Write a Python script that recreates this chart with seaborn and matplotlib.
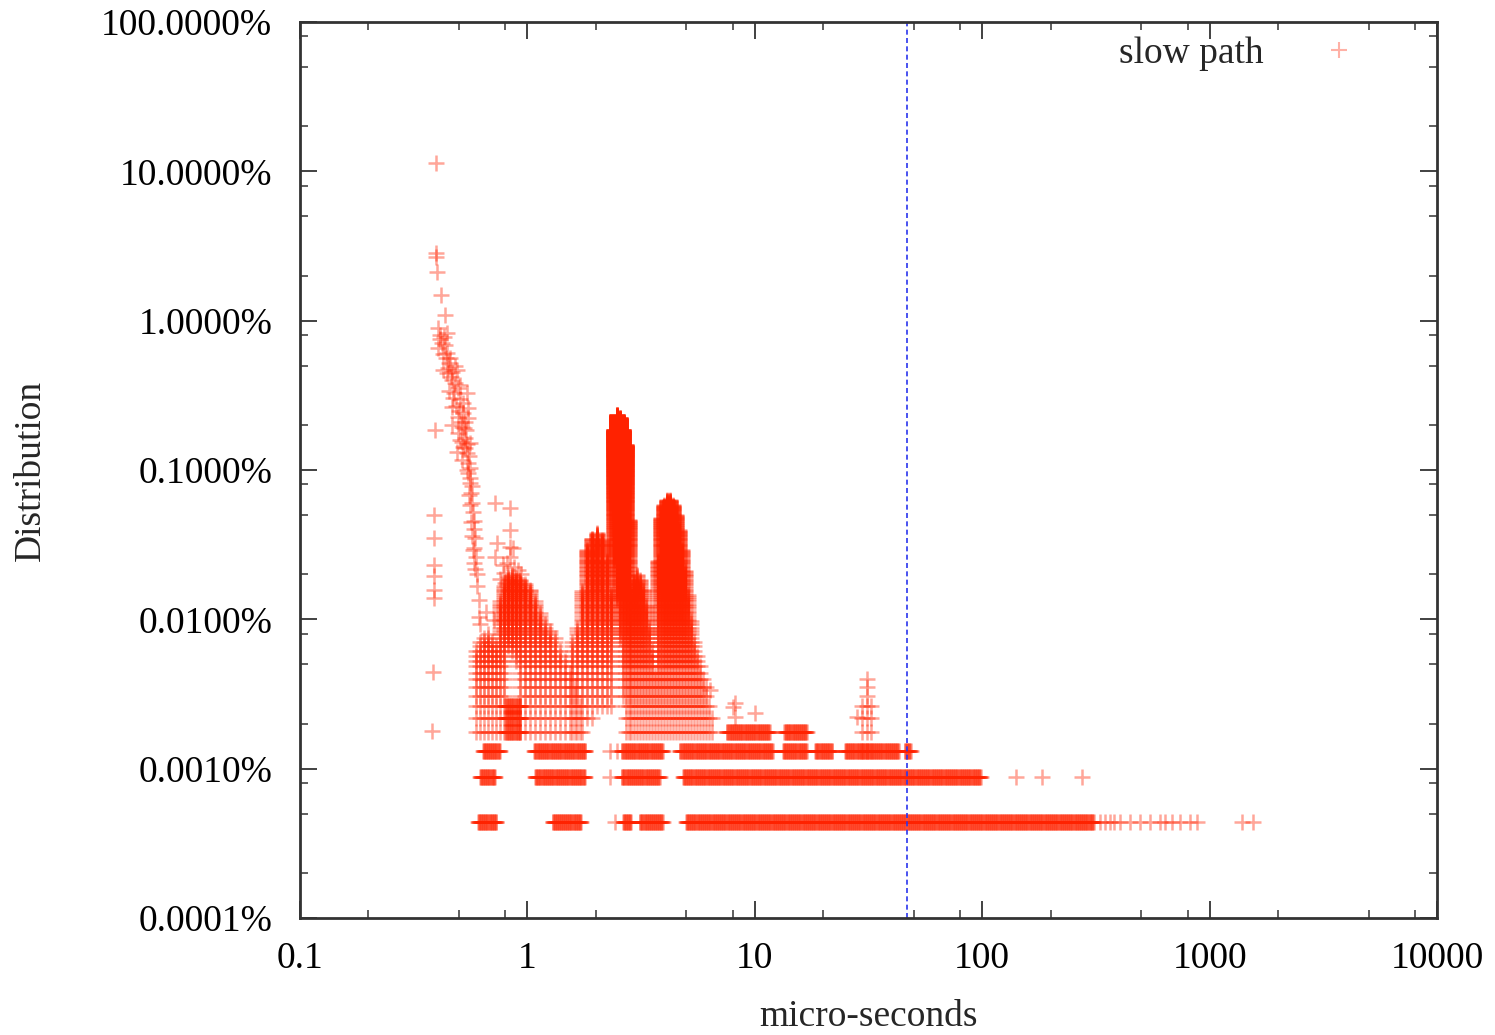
import numpy as np
import pandas as pd
import matplotlib
matplotlib.use("Agg")
import matplotlib.pyplot as plt
import seaborn as sns
from matplotlib.ticker import LogLocator, FixedLocator, FixedFormatter, FuncFormatter, NullFormatter
from matplotlib.lines import Line2D

# ---------------------------------------------------------------- data
# share (in %) of all samples that a single sample represents (lowest band)
ONE_SAMPLE = 0.00044

# isolated points: latency (micro-seconds), distribution (%)
point_x = [0.396, 0.396, 0.396, 0.400, 0.417, 0.434,
           0.392, 0.388, 0.388, 0.388, 0.388, 0.388, 0.388, 0.384, 0.380,
           0.404, 0.443, 0.412, 0.421, 0.434, 0.404, 0.443, 0.456, 0.480, 0.425,
           0.490, 0.443, 0.466, 0.505, 0.495, 0.452, 0.542, 0.470, 0.521, 0.466,
           0.548, 0.495, 0.548, 0.466, 0.515, 0.537, 0.495, 0.531, 0.559, 0.521,
           0.490, 0.542, 0.515, 0.548, 0.559, 0.559, 0.570, 0.570, 0.582, 0.588,
           0.582, 0.588, 0.600, 0.612, 0.612, 0.618,
           0.425, 0.452, 0.466, 0.480, 0.505, 0.521, 0.531, 0.505, 0.531, 0.548,
           0.559, 0.565, 0.575, 0.582, 0.594, 0.600,
           0.412, 0.430, 0.438, 0.448, 0.460, 0.475, 0.486, 0.500, 0.510, 0.525,
           0.515, 0.540, 0.552, 0.545, 0.553, 0.560, 0.566, 0.573, 0.578, 0.585,
           0.720, 0.838, 0.838, 0.734, 0.838, 0.720, 0.838, 0.780, 0.657, 0.712,
           0.757, 0.800, 0.864, 0.810, 0.870, 0.905, 0.790, 0.940,
           2.305, 2.305, 2.474, 2.424,
           6.342, 8.005, 8.169, 8.169, 10.0, 28.08,
           140.3, 182.6, 273.5,
           328.6, 345.0, 363.0, 380.0, 402.0, 445.0, 492.0, 545.0, 603.0, 634.0,
           680.0, 738.0, 817.0, 877.0, 1384.0, 1547.0]
point_y = [11.4, 2.85, 2.68, 2.11, 1.49, 1.09,
           0.186, 0.0500, 0.0351, 0.0231, 0.0195, 0.0157, 0.0139, 0.00444, 0.00179,
           0.895, 0.829, 0.80, 0.710, 0.69, 0.657, 0.608, 0.563, 0.50, 0.468,
           0.468, 0.447, 0.402, 0.37, 0.355, 0.34, 0.329, 0.304, 0.281, 0.265,
           0.261, 0.227, 0.223, 0.200, 0.194, 0.185, 0.177, 0.164, 0.152, 0.143,
           0.132, 0.130, 0.117, 0.112, 0.103, 0.0819, 0.0783, 0.0603, 0.0456, 0.0351,
           0.0301, 0.0218, 0.0167, 0.0135, 0.0104, 0.0093,
           0.60, 0.52, 0.45, 0.38, 0.30, 0.24, 0.21, 0.16, 0.14, 0.095,
           0.088, 0.070, 0.052, 0.040, 0.026, 0.020,
           0.75, 0.78, 0.56, 0.48, 0.42, 0.33, 0.27, 0.25, 0.21, 0.19,
           0.155, 0.15, 0.125, 0.10, 0.068, 0.058, 0.045, 0.036, 0.029, 0.024,
           0.0603, 0.0557, 0.0397, 0.0325, 0.0306, 0.0262, 0.0262, 0.0231, 0.0112, 0.0099,
           0.0185, 0.0175, 0.0300, 0.0240, 0.0225, 0.0215, 0.0205, 0.0200,
           0.00132, 0.00088, 0.00132, 0.00044,
           0.00337, 0.00259, 0.00275, 0.00222, 0.00236, 0.00222,
           0.00088, 0.00088, 0.00088,
           0.00044, 0.00044, 0.00044, 0.00044, 0.00044, 0.00044, 0.00044, 0.00044,
           0.00044, 0.00044, 0.00044, 0.00044, 0.00044, 0.00044, 0.00044, 0.00044]

# dense columns: at col_x every sample-count level between col_bot and col_top (%) is hit
col_x = [0.594, 0.618, 0.644, 0.670, 0.698, 0.727, 0.757, 0.788,
         0.821, 0.855, 0.890, 0.927, 0.975, 1.026, 1.079, 1.135, 1.194, 1.256,
         1.321, 1.389, 1.461, 1.537, 1.617, 1.701,
         1.569, 1.651, 1.736, 1.826, 1.920, 2.020, 2.125, 2.236, 2.328,
         2.400, 2.474, 2.550, 2.630, 2.710, 2.794,
         2.851, 2.939, 3.029, 3.122, 3.218, 3.317, 3.419, 3.525, 3.634,
         3.746, 3.862, 3.981, 4.104, 4.230, 4.361, 4.495, 4.634, 4.777, 4.924,
         5.076, 5.233, 5.394, 5.559, 5.731, 5.908, 6.090, 6.278, 6.471,
         29.53, 31.07, 32.35]
col_top = [0.00624, 0.0073, 0.00786, 0.0081, 0.0073, 0.00674, 0.0135, 0.0170,
           0.0195, 0.0200, 0.0192, 0.0185, 0.0175, 0.0160, 0.0135, 0.0112, 0.0096, 0.00876,
           0.0075, 0.00643, 0.00551, 0.00458, 0.00393, 0.00289,
           0.0073, 0.00917, 0.0157, 0.0292, 0.0351, 0.0379, 0.0340, 0.0250, 0.01457,
           0.186, 0.234, 0.223, 0.186, 0.147, 0.0463,
           0.0157, 0.0184, 0.0198, 0.0189, 0.0162, 0.0125, 0.00917, 0.00624, 0.00458,
           0.0250, 0.0478, 0.0584, 0.0631, 0.0631, 0.0584, 0.0500, 0.0397, 0.0292, 0.0214,
           0.01457, 0.00991, 0.0073, 0.00578, 0.00495, 0.00424, 0.00364, 0.00289, 0.0024,
           0.00267, 0.00411, 0.00289]
col_bot = [0.00173, 0.00173, 0.00173, 0.00173, 0.00173, 0.00173, 0.00173, 0.00173,
           0.00624, 0.00578, 0.00495, 0.00173, 0.00173, 0.00173, 0.00173, 0.00173, 0.00173, 0.00173,
           0.00173, 0.00173, 0.00173, 0.00173, 0.00173, 0.00173,
           0.00173, 0.00173, 0.00173, 0.00196, 0.00212, 0.00229, 0.00229, 0.00229, 0.0024,
           0.0250, 0.0135, 0.0073, 0.00289, 0.00173, 0.00173,
           0.00173, 0.00173, 0.00173, 0.00173, 0.00173, 0.00173, 0.00173, 0.00173, 0.00173,
           0.00173, 0.00173, 0.00173, 0.00173, 0.00173, 0.00173, 0.00173, 0.00173, 0.00173, 0.00173,
           0.00173, 0.00173, 0.00173, 0.00173, 0.00173, 0.00173, 0.00173, 0.00173, 0.00173,
           0.00132, 0.00132, 0.00132]

# horizontal runs: every bin from run_lo to run_hi (us) holds run_clo..run_chi samples
run_lo = [0.80, 0.637, 1.07, 2.60, 4.68, 13.3, 18.4, 24.9, 45.6,
          0.618, 1.08, 2.60, 4.83,
          0.606, 1.29, 2.63, 3.12, 4.98,
          7.53, 13.5]
run_hi = [0.93, 0.757, 1.80, 3.94, 12.0, 16.9, 21.9, 43.0, 48.5,
          0.72, 1.79, 3.82, 98.5,
          0.73, 1.72, 2.85, 3.94, 309.0,
          11.64, 16.9]
run_clo = [4, 3, 3, 3, 3, 3, 3, 3, 3,
           2, 2, 2, 2,
           1, 1, 1, 1, 1,
           4, 4]
run_chi = [6, 3, 3, 3, 3, 3, 3, 3, 3,
           2, 2, 2, 2,
           1, 1, 1, 1, 1,
           4, 4]

cutoff_us = 46.6
series_name = "slow path"
x_ticks = [0.1, 1, 10, 100, 1000, 10000]
x_tick_labels = ["0.1", "1", "10", "100", "1000", "10000"]
y_ticks = [0.0001, 0.001, 0.01, 0.1, 1, 10, 100]

# ---------------------------------------------------------------- expand to markers
xs, ys = list(point_x), list(point_y)
for x, top, bot in zip(col_x, col_top, col_bot):
    c0 = max(1, int(np.ceil(bot / ONE_SAMPLE - 1e-6)))
    c1 = int(np.floor(top / ONE_SAMPLE + 1e-6))
    for c in range(c0, c1 + 1):
        xs.append(x)
        ys.append(c * ONE_SAMPLE)

BIN_DECADES = 0.003
for lo, hi, clo, chi in zip(run_lo, run_hi, run_clo, run_chi):
    n = max(1, int(round(np.log10(hi / lo) / BIN_DECADES))) + 1
    bx = np.geomspace(lo, hi, n)
    for c in range(clo, chi + 1):
        xs.extend(bx.tolist())
        ys.extend([c * ONE_SAMPLE] * len(bx))

df = pd.DataFrame({"us": xs, "pct": ys})

# ---------------------------------------------------------------- plot
sns.set_theme(style="ticks")
plt.rcParams["font.family"] = ["Liberation Serif", "DejaVu Serif"]

FS = 27
RED = "#ff2200"

fig = plt.figure(figsize=(14.95, 10.35), dpi=100)
ax = fig.add_axes([300 / 1495, 1 - 918 / 1035, 1137 / 1495, 896 / 1035])

sns.scatterplot(data=df, x="us", y="pct", marker="+", s=145, color=RED,
                alpha=0.4, linewidth=1.8, legend=False, ax=ax)

ax.axvline(cutoff_us, color="#2a35ee", lw=1.2, ls=(0, (3, 2)))

ax.set_xscale("log")
ax.set_yscale("log")
ax.set_xlim(0.1, 10000)
ax.set_ylim(0.0001, 100)

ax.xaxis.set_major_locator(FixedLocator(x_ticks))
ax.xaxis.set_major_formatter(FixedFormatter(x_tick_labels))
ax.xaxis.set_minor_locator(LogLocator(base=10, subs=[2, 5, 8], numticks=20))
ax.xaxis.set_minor_formatter(NullFormatter())
ax.yaxis.set_major_locator(FixedLocator(y_ticks))
ax.yaxis.set_major_formatter(FuncFormatter(lambda v, p: f"{v:.4f}%"))
ax.yaxis.set_minor_locator(LogLocator(base=10, subs=[2, 5, 8], numticks=20))
ax.yaxis.set_minor_formatter(NullFormatter())

ax.tick_params(which="both", direction="in", top=True, right=True,
               colors="#333333", labelcolor="black", labelsize=FS)
ax.tick_params(which="major", length=12, width=1.3)
ax.tick_params(which="minor", length=6, width=1.1)
ax.tick_params(axis="x", which="major", pad=17)
ax.tick_params(axis="y", which="major", pad=20)
for sp in ax.spines.values():
    sp.set_color("#333333")
    sp.set_linewidth(2.0)

ax.set_xlabel("micro-seconds", fontsize=FS, va="top")
ax.xaxis.set_label_coords(0.5, -0.0915)
ax.set_ylabel("Distribution", fontsize=FS)
ax.yaxis.set_label_coords(-0.222, 0.5)

handle = Line2D([], [], ls="", marker="+", markersize=12, mew=1.5,
                color=RED, alpha=0.35)
ax.legend([handle], [series_name], loc="upper right", markerfirst=False,
          frameon=False, fontsize=FS, handlelength=2.0, handletextpad=1.0,
          bbox_to_anchor=(0.96, 1.0), borderaxespad=0.0)

fig.savefig("out.png", dpi=100)
